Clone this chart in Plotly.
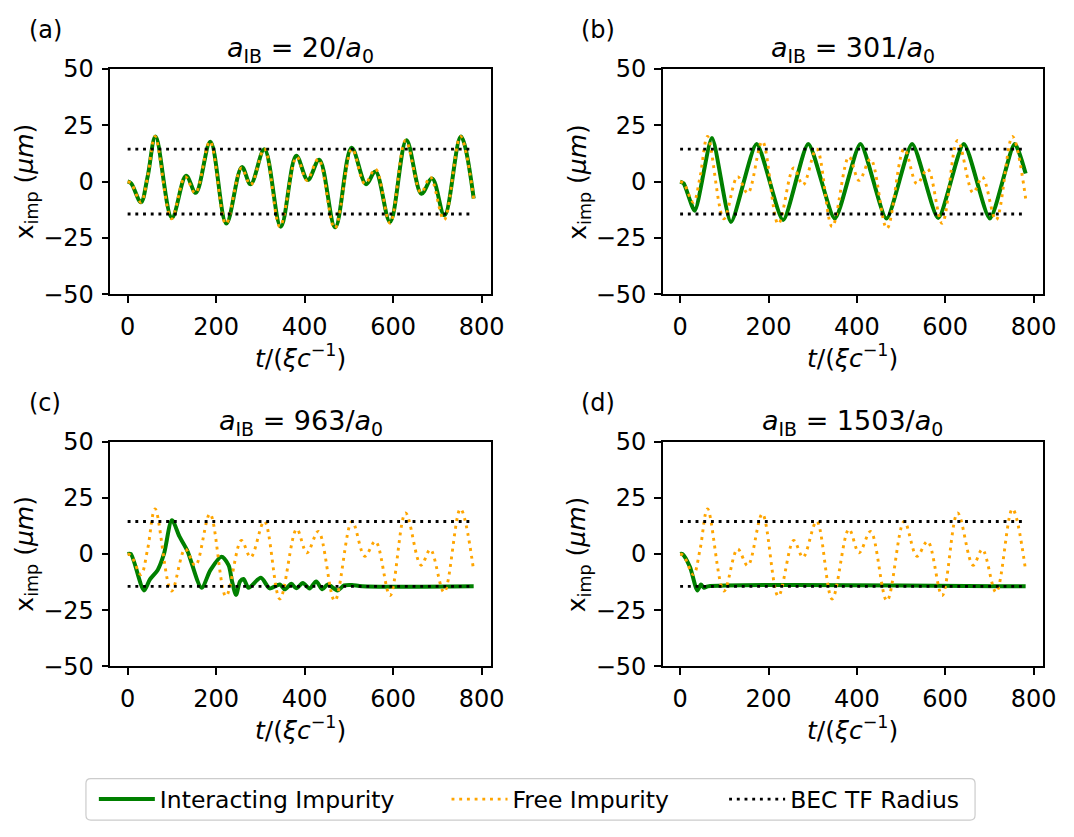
import plotly.graph_objects as go

# ---------------- data ----------------
t_free = [0, 8, 30, 45, 62, 99, 130, 153, 186, 222, 257, 278, 309, 344, 382, 405, 431,
          468, 507, 536, 560, 593, 628, 663, 684, 715, 752, 782]
x_free = [0, -0.8, -9.2, 2, 20, -16.5, 2.2, -5.2, 17.8, -18.8, 6, -1.5, 14.5, -20, 11,
          0.5, 10, -20.8, 14.5, -1, 5.6, -18.5, 18.2, -5, 2, -17, 20, -7.5]

t_int_a = [0, 8, 30, 45, 63, 100, 132, 154, 187, 223, 258, 278, 309, 346, 381, 407, 433,
           469, 506, 539, 560, 593, 630, 664, 688, 716, 753, 782]
x_int_a = [0, -0.8, -9.2, 2, 20, -16, 2.6, -5, 17.6, -18.6, 6.4, -1.2, 14.3, -20, 11.4,
           0.7, 9.7, -20.3, 15, -1.2, 4.5, -17.9, 18.3, -5.4, 1.4, -15, 20, -7.5]

t_int_b = [0, 8, 33, 72, 115, 173, 233, 290, 350, 408, 467, 525, 584, 642, 701, 757, 782]
x_int_b = [0, -0.8, -12.9, 19.3, -17.9, 16.7, -17.1, 16.7, -16.4, 16.7, -16.4, 16.7,
           -16.2, 16.7, -16.4, 16.7, 3.6]

t_int_c = [0, 7, 37, 50, 68, 82, 100, 117, 135, 167, 187, 212, 228, 236, 245, 254, 262,
           273, 301, 321, 344, 355, 370, 381, 396, 411, 426, 440, 452, 474, 489, 507,
           530, 782]
x_int_c = [0, 0, -16.2, -11.4, -7.1, 0, 15, 7.8, 1.4, -15, -7.2, -1.2, -5, -12.2, -18.2,
           -12.2, -11.1, -15, -10.6, -15.3, -13.6, -15.7, -13.3, -15.3, -12.9, -15.4,
           -12.2, -15.7, -13.6, -16.2, -14, -13.8, -14.4, -14.4]

t_int_d = [0, 5, 22, 39, 47, 54, 63, 782]
x_int_d = [0, 0, -5.7, -16.2, -13.6, -15, -14.4, -14.4]

tf_radius = 14.4
t_end = 782

a_ib_values = [20, 301, 963, 1503]
panel_labels = ["(a)", "(b)", "(c)", "(d)"]
x_ticks = [0, 200, 400, 600, 800]
y_ticks = [-50, -25, 0, 25, 50]

# ---------------- layout helpers ----------------
W, H = 1074, 837
FONT = "DejaVu Sans"
FS_TICK = 24
FS_TITLE = 27
FS_LABEL = 25
FS_PANEL = 24
FS_LEG = 23.5


def fx(px):
    return px / W


def fy(py):
    return 1 - py / H


GREEN = "#008000"
ORANGE = "#FFA500"

col_left = (111.7, 497.0)
col_right = (671.0, 1055.7)
row_top = (56.7, 290.0)
row_bot = (442.3, 675.0)
panels = [(col_left, row_top), (col_right, row_top), (col_left, row_bot), (col_right, row_bot)]
int_series = [(t_int_a, x_int_a), (t_int_b, x_int_b), (t_int_c, x_int_c), (t_int_d, x_int_d)]
smooth = [1.0, 0.6, 0.8, 0.8]

fig = go.Figure()
pad = 0.05 * t_end

for i, ((cx, ry), (ti, xi)) in enumerate(zip(panels, int_series)):
    n = "" if i == 0 else str(i + 1)
    xa, ya = "x" + n, "y" + n
    first = i == 0
    fig.add_trace(go.Scatter(x=ti, y=xi, mode="lines", xaxis=xa, yaxis=ya,
                             line=dict(color=GREEN, width=4, shape="spline", smoothing=smooth[i]),
                             name="Interacting Impurity", showlegend=first, legend="legend"))
    fig.add_trace(go.Scatter(x=t_free, y=x_free, mode="lines", xaxis=xa, yaxis=ya,
                             line=dict(color=ORANGE, width=2.9, dash="2.9px,4.8px",
                                       shape="spline", smoothing=1.0),
                             name="Free Impurity", showlegend=first, legend="legend2"))
    fig.add_trace(go.Scatter(x=[0, t_end, None, 0, t_end],
                             y=[tf_radius, tf_radius, None, -tf_radius, -tf_radius],
                             mode="lines", xaxis=xa, yaxis=ya,
                             line=dict(color="black", width=2.9, dash="2.9px,4.8px"),
                             name="BEC TF Radius", showlegend=first, legend="legend3"))

    axcommon = dict(showgrid=False, zeroline=False, showline=True, mirror=True,
                    linecolor="black", linewidth=1.5, ticks="outside", ticklen=7,
                    tickwidth=1.5, tickcolor="black", ticklabelstandoff=3,
                    tickfont=dict(family=FONT, size=FS_TICK, color="black"))
    fig.layout["xaxis" + n] = dict(domain=[fx(cx[0]), fx(cx[1])], anchor=ya,
                                   range=[-pad, t_end + pad], tickvals=x_ticks, **axcommon)
    fig.layout["yaxis" + n] = dict(domain=[fy(ry[1]), fy(ry[0])], anchor=xa,
                                   range=[-50, 50], tickvals=y_ticks, **axcommon)

    dx = cx[0] - col_left[0]
    dy = ry[0] - row_top[0]
    ccx = (cx[0] + cx[1]) / 2
    ccy = (ry[0] + ry[1]) / 2
    anns = [
        (46 + dx, 16.5 + dy, panel_labels[i], 0, FS_PANEL),
        (ccx, 37 + dy, "<i>a</i><sub>IB</sub> = %d/<i>a</i><sub>0</sub>" % a_ib_values[i], 0, FS_TITLE),
        (ccx, 354 + dy, "<i>t</i>/(<i>ξc</i><sup>−1</sup>)", 0, FS_LABEL),
        (26 + dx, ccy, "x<sub>imp</sub> (<i>μm</i>)", -90, FS_LABEL),
    ]
    for ax_, ay_, txt, rot, fs in anns:
        fig.add_annotation(x=fx(ax_), y=fy(ay_), xref="paper", yref="paper", text=txt,
                           showarrow=False, xanchor="center", yanchor="middle",
                           textangle=rot, font=dict(family=FONT, size=fs, color="black"))

# legend frame (rounded rectangle), centred in the figure
bx0, bx1, by0, by1, r = 87, 987, 791, 834, 5
path = ("M {a},{b} L {c},{b} Q {x1},{b} {x1},{d} L {x1},{e} Q {x1},{y1} {c},{y1} "
        "L {a},{y1} Q {x0},{y1} {x0},{e} L {x0},{d} Q {x0},{b} {a},{b} Z").format(
    a=fx(bx0 + r), c=fx(bx1 - r), b=fy(by0), d=fy(by0 + r), e=fy(by1 - r),
    x0=fx(bx0), x1=fx(bx1), y1=fy(by1))
fig.add_shape(type="path", path=path, xref="paper", yref="paper",
              line=dict(color="#cccccc", width=1.2), fillcolor="white", layer="below")

leg_common = dict(orientation="h", xanchor="left", yanchor="middle", y=fy(812.5),
                  bgcolor="rgba(0,0,0,0)", borderwidth=0, itemwidth=56,
                  font=dict(family=FONT, size=FS_LEG, color="black"))
fig.update_layout(
    width=W, height=H, autosize=False,
    margin=dict(l=0, r=0, t=0, b=0),
    paper_bgcolor="white", plot_bgcolor="white",
    font=dict(family=FONT, size=FS_TICK, color="black"),
    legend=dict(x=fx(95), **leg_common),
    legend2=dict(x=fx(452), **leg_common),
    legend3=dict(x=fx(733), **leg_common),
)

fig.write_html("out.html")
